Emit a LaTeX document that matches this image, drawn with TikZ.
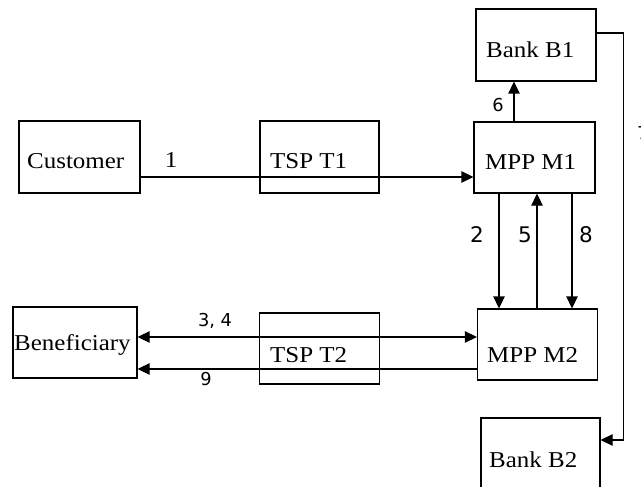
\documentclass[tikz,border=0pt]{standalone}
\usepackage{fontspec}
\setmainfont[FakeStretch=1.1]{Liberation Serif}
\newfontfamily\lblfont{DejaVu Sans}
\usetikzlibrary{arrows.meta}
\begin{document}
\begin{tikzpicture}[x=1pt,y=-1pt,
  box/.style={draw, line width=1.3pt, inner sep=0pt, fill=none},
  txt/.style={anchor=base west, inner sep=0pt, font=\fontsize{22.7}{26}\selectfont},
  lbl/.style={inner sep=0pt, font=\lblfont\fontsize{17.8}{20}\selectfont},
  biglbl/.style={inner sep=0pt, font=\lblfont\fontsize{21.5}{24}\selectfont},
  conn/.style={line width=1.3pt},
  arr/.style={conn, -{Triangle[length=12pt,width=11.5pt]}},
  arrb/.style={conn, {Triangle[length=12pt,width=11.5pt]}-{Triangle[length=12pt,width=11.5pt]}}]
\useasboundingbox (0,0) rectangle (641,487);
% boxes
\node[box, minimum width=121pt, minimum height=72pt] (cust) at (79.5,157) {};
\node[box, minimum width=119pt, minimum height=72pt] (t1) at (319.5,157) {};
\node[box, minimum width=121pt, minimum height=71pt] (m1) at (534.5,157.5) {};
\node[box, minimum width=120pt, minimum height=72pt] (b1) at (536,45) {};
\node[box, minimum width=124pt, minimum height=71pt] (ben) at (75,342.5) {};
\node[box, minimum width=120pt, minimum height=71pt] (t2) at (319.5,348.5) {};
\node[box, minimum width=120pt, minimum height=71pt] (m2) at (537.5,344.5) {};
\node[box, minimum width=119pt, minimum height=82pt] (b2) at (540.5,459) {};
% box texts
\node[txt] (custT) at (27,168) {Customer};
\node[txt] (t1T) at (270,168) {TSP T1};
\node[txt] (m1T) at (485,169) {MPP M1};
\node[txt] (b1T) at (486,58) {Bank B1};
\node[txt] (benT) at (14,350) {Beneficiary};
\node[txt] (t2T) at (270,362) {TSP T2};
\node[txt] (m2T) at (487,362) {MPP M2};
\node[txt] (b2T) at (489,467) {Bank B2};
% connectors
\draw[arr] ([yshift=-20pt]cust.east) -- ([yshift=-20pt]cust.east -| m1.west);
\draw[arr] ([xshift=-20.5pt]m1.north) -- ([xshift=-20.5pt]m1.north |- b1.south);
\draw[arr] ([xshift=-35.5pt]m1.south) -- ([xshift=-35.5pt]m1.south |- m2.north);
\draw[arr] ([xshift=2.5pt]m1.south |- m2.north) -- ([xshift=2.5pt]m1.south);
\draw[arr] ([xshift=37.5pt]m1.south) -- ([xshift=37.5pt]m1.south |- m2.north);
\draw[arrb] ([yshift=5.5pt]ben.east) -- ([yshift=5.5pt]ben.east -| m2.west);
\draw[arr] ([yshift=-26.5pt]ben.east -| m2.west) -- ([yshift=-26.5pt]ben.east);
\coordinate (c7) at (623.5,440);
\draw[arr] ([yshift=12pt]b1.east) -| (c7) -- (c7 -| b2.east);
% labels
\node[inner sep=0pt, font=\fontsize{22.7}{26}\selectfont] (l1) at (171,160) {1};
\node[lbl] (l6) at (498,105) {6};
\node[biglbl] (l2) at (477,235) {2};
\node[biglbl] (l5) at (525,235) {5};
\node[biglbl] (l8) at (586,235) {8};
\node[lbl] (l34) at (215,321) {3, 4};
\node[lbl] (l9) at (206,379) {9};
\node[lbl, anchor=north west] (l7) at (637,126) {7};
\end{tikzpicture}
\end{document}
